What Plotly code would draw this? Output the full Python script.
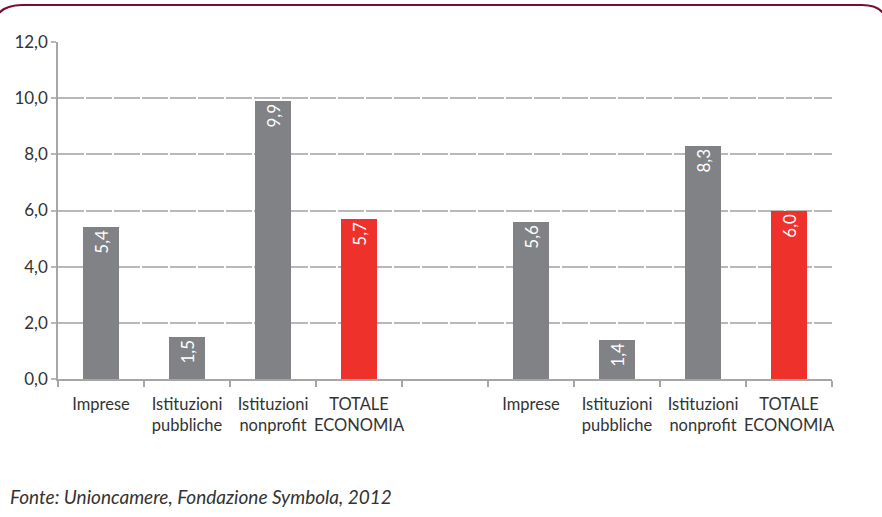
import plotly.graph_objects as go

# Categories and values for the two groups of bars
categories = ["Imprese", "Istituzioni<br>pubbliche", "Istituzioni<br>nonprofit", "TOTALE<br>ECONOMIA"]
values_group1 = [5.4, 1.5, 9.9, 5.7]
values_group2 = [5.6, 1.4, 8.3, 6.0]
y_ticks = [0, 2, 4, 6, 8, 10, 12]
source_note = "Fonte: Unioncamere, Fondazione Symbola, 2012"

GREY = "#808285"
RED = "#EE312B"
FONT = "Lato"

# slot positions: group 1 at 0-3, empty slot at 4, group 2 at 5-8
x_positions = list(range(4)) + list(range(5, 9))
y_values = values_group1 + values_group2
labels = categories + categories
colors = [GREY, GREY, GREY, RED, GREY, GREY, GREY, RED]

fig = go.Figure()
fig.add_trace(go.Bar(
    x=x_positions,
    y=y_values,
    width=0.42,
    marker=dict(color=colors, line=dict(width=0)),
    texttemplate="%{y:.1f}",
    textposition="inside",
    insidetextanchor="end",
    textangle=-90,
    textfont=dict(family=FONT, size=17, color="white"),
    hoverinfo="skip",
))

# page coordinates helpers for the frame border (pixels -> paper)
L, R, T, B = 58, 50, 42, 138
W, H = 882, 517
pw, ph = W - L - R, H - T - B


def px(x):
    return (x - L) / pw


def py(y):
    return (H - B - y) / ph


border_path = (
    f"M {px(-8)},{py(35)} Q {px(-8)},{py(5)} {px(22)},{py(5)} "
    f"L {px(862)},{py(5)} Q {px(888)},{py(5)} {px(888)},{py(30)}"
)

fig.update_layout(
    width=W,
    height=H,
    margin=dict(l=L, r=R, t=T, b=B),
    paper_bgcolor="white",
    plot_bgcolor="white",
    separators=",.",
    showlegend=False,
    font=dict(family=FONT, color="#3a3a3a"),
    bargap=0,
    xaxis=dict(
        range=[-0.5, 8.5],
        tickvals=x_positions,
        ticktext=labels,
        ticks="",
        ticklabelstandoff=9,
        tickfont=dict(family=FONT, size=16.5, color="#333333"),
        showgrid=False,
        showline=True,
        linecolor="#a6a6a6",
        linewidth=1.5,
        zeroline=False,
        fixedrange=True,
        minor=dict(
            tickvals=[i + 0.5 for i in range(-1, 9)],
            ticks="outside",
            ticklen=6,
            tickcolor="#a6a6a6",
            tickwidth=1.5,
            showgrid=False,
        ),
    ),
    yaxis=dict(
        range=[0, 12],
        tickvals=y_ticks,
        tickformat=".1f",
        ticks="outside",
        ticklen=5,
        tickcolor="#b8b8b8",
        tickwidth=1.5,
        tickfont=dict(family=FONT, size=17, color="#333333"),
        showgrid=True,
        gridcolor="#b8b8b8",
        gridwidth=1.5,
        griddash="26px,2px",
        showline=True,
        linecolor="#a6a6a6",
        linewidth=1.5,
        zeroline=False,
        fixedrange=True,
    ),
    shapes=[
        dict(
            type="path",
            xref="paper",
            yref="paper",
            path=border_path,
            line=dict(color="#7B0C2E", width=2),
            layer="above",
        )
    ],
    annotations=[
        dict(
            text=source_note,
            xref="paper",
            yref="paper",
            x=px(8),
            y=py(497),
            xanchor="left",
            yanchor="middle",
            showarrow=False,
            font=dict(family=FONT, size=19, color="#333333", style="italic"),
        )
    ],
)

fig.write_html("out.html")
